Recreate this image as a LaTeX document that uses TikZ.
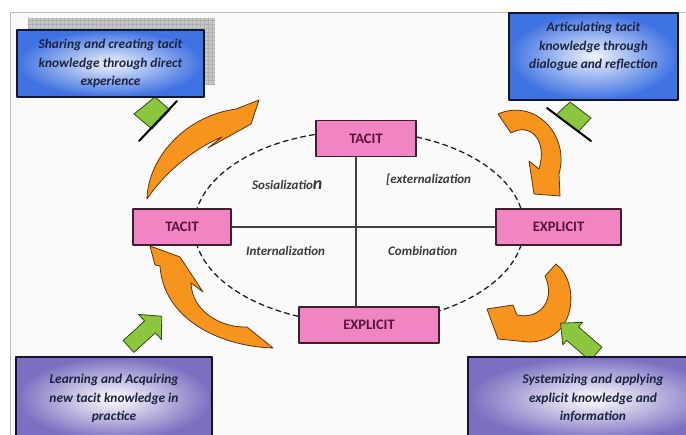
\documentclass[tikz,border=0pt]{standalone}
\usepackage{fontspec}
\setmainfont{Carlito}[BoldFont={Carlito Bold},ItalicFont={Carlito Italic},BoldItalicFont={Carlito Bold Italic}]
\usepackage{xcolor}
\usepackage{tikz}
\usetikzlibrary{calc,positioning,shadings}

\definecolor{pinkfill}{HTML}{F184C2}
\definecolor{pinkline}{HTML}{3D1F2E}
\definecolor{pinktext}{HTML}{5A143C}
\definecolor{blueedge}{HTML}{3F72E2}
\definecolor{purpleedge}{HTML}{7A6FC0}
\definecolor{boxline}{HTML}{121530}
\definecolor{boxtext}{HTML}{1C2440}
\definecolor{labeltext}{HTML}{3A3A3A}
\definecolor{orangefill}{HTML}{F7941D}
\definecolor{orangeline}{HTML}{5B3410}
\definecolor{greenfill}{HTML}{8CC63F}
\definecolor{greenline}{HTML}{2E4D12}

\begin{document}
\begin{tikzpicture}[x=1pt,y=-1pt,line cap=round,line join=round,
  pinkbox/.style={draw=pinkline,line width=1.2pt,fill=pinkfill,minimum height=36pt,inner sep=0pt,
    font=\fontsize{14.5}{16}\selectfont\bfseries,text=pinktext},
  infobox/.style={draw=boxline,line width=1.8pt,inner sep=0pt,align=center,
    font=\fontsize{13.4}{18.5}\selectfont\bfseries\itshape,text=boxtext},
  bluebox/.style={infobox,inner color=white!92!blueedge,outer color=blueedge},
  purplebox/.style={infobox,inner color=white,outer color=purpleedge},
  quadlabel/.style={anchor=west,inner sep=0pt,font=\fontsize{13}{15}\selectfont\bfseries\itshape,text=labeltext},
  orangearr/.style={fill=orangefill,draw=orangeline,line width=0.8pt},
  greenarr/.style={fill=greenfill,draw=greenline,line width=0.8pt}]
\useasboundingbox (0,0) rectangle (686,435);
\clip (0,0) rectangle (686,435);
\fill[white] (0,0) rectangle (686,435);
\fill[gray!4] (10,12) rectangle (686,435);
\draw[gray!55,line width=0.8pt] (686,12) -- (10,12) -- (10,435);

% knowledge circle
\draw[gray!25!black,line width=1.3pt,dash pattern=on 5pt off 4pt] (359,227) ellipse (165 and 96);

\node[pinkbox,minimum width=100pt] (t1) at (366,138.5) {TACIT};
\node[pinkbox,minimum width=98pt] (t2) at (182,227) {TACIT};
\node[pinkbox,minimum width=125pt] (e1) at (558.5,227) {EXPLICIT};
\node[pinkbox,minimum width=140pt] (e2) at (369,325) {EXPLICIT};

\draw[black!75,line width=1.2pt] ($(t1.south)+(-10,0)$) -- ($(e2.north)+(-13,0)$);
\draw[black!75,line width=1.2pt] (t2.east) -- (e1.west);

\node[quadlabel] (lsoc) at (252,185) {Sosializatio{\fontsize{18}{18}\selectfont n}};
\node[quadlabel] (lext) at (386,180) {[externalization};
\node[quadlabel] (lint) at (246,251) {Internalization};
\node[quadlabel] (lcom) at (388,251) {Combination};

% orange cycle arrows
\draw[orangearr] (147,199) .. controls (148,158) and (185,116) .. (236,109) -- (259,100) -- (251,124)
  -- (208,148) -- (222,137) .. controls (195,148) and (165,172) .. (147,199) -- cycle;
\draw[orangearr] (498,114) .. controls (535,98) and (570,135) .. (559,174) -- (560,196) -- (534,194)
  -- (529,161) -- (539,169) .. controls (548,140) and (530,122) .. (511,133) -- cycle;
\draw[orangearr] (556,264) .. controls (580,282) and (578,342) .. (528,342) -- (498,339) -- (487,309)
  -- (513,305) -- (517,315) .. controls (540,320) and (556,300) .. (545,276) -- cycle;
\draw[orangearr] (150,246) -- (180,257) -- (203,292) -- (191,283) .. controls (192,312) and (222,328) .. (247,327)
  -- (273,348) .. controls (215,346) and (163,316) .. (160,266) -- (155,265) -- cycle;

% green arrows
\draw[greenarr] (134,114) -- (155,97) -- (170,110) -- (152,129) -- cycle;
\draw[black,line width=2pt] (177,101) -- (139,141);
\draw[greenarr] (556,115) -- (570,102) -- (591,118) -- (578,132) -- cycle;
\draw[black,line width=2pt] (547,108) -- (591,141);
\draw[greenarr,shift={(128.5,346.5)},rotate=42.3] (0,-8) -- (29,-8) -- (29,-17) -- (45,0) -- (29,17) -- (29,8) -- (0,8) -- cycle;
\draw[greenarr,shift={(596,354)},rotate=139] (0,-9) -- (31,-9) -- (31,-15) -- (47,0) -- (31,15) -- (31,9) -- (0,9) -- cycle;

% boxes
\fill[gray!45] (28,18) rectangle (215,85);
\draw[gray!62,line width=0.3pt,xstep=4pt,ystep=4pt] (28,85) grid (215,18);
\node[bluebox,minimum width=187pt,minimum height=67pt] (b1) at (110.5,63.5)
  {Sharing and creating tacit\\knowledge through direct\\experience};
\node[bluebox,minimum width=169pt,minimum height=87pt] (b2) at (593.5,56.5) {};
\node[infobox,draw=none] (b2text) at ($(b2.center)+(0,-10)$)
  {Articulating tacit\\knowledge through\\dialogue and reflection};
\node[purplebox,minimum width=196pt,minimum height=83pt] (p1) at (114,398.5)
  {Learning and Acquiring\\new tacit knowledge in\\practice};
\node[purplebox,minimum width=250pt,minimum height=83pt] (p2) at (593,398.5)
  {Systemizing and applying\\explicit knowledge and\\information};
\end{tikzpicture}
\end{document}
